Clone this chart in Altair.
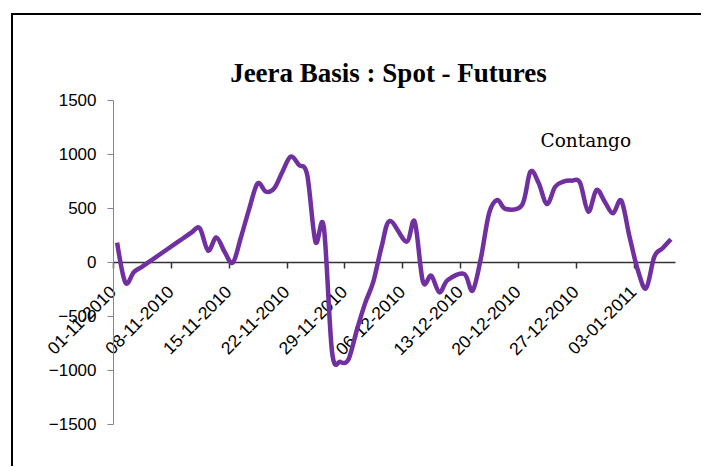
import altair as alt
import pandas as pd

# Jeera basis (Spot - Futures)
dates = [
    "2010-11-01", "2010-11-02", "2010-11-03", "2010-11-04", "2010-11-05",
    "2010-11-08", "2010-11-09", "2010-11-10", "2010-11-11", "2010-11-12",
    "2010-11-13", "2010-11-14", "2010-11-15", "2010-11-16", "2010-11-17",
    "2010-11-18", "2010-11-19", "2010-11-20", "2010-11-21", "2010-11-22",
    "2010-11-23", "2010-11-24", "2010-11-25", "2010-11-26", "2010-11-27",
    "2010-11-28", "2010-11-29", "2010-11-30", "2010-12-01", "2010-12-02",
    "2010-12-03", "2010-12-04", "2010-12-06", "2010-12-07", "2010-12-08",
    "2010-12-09", "2010-12-10", "2010-12-11", "2010-12-13", "2010-12-14",
    "2010-12-15", "2010-12-16", "2010-12-17", "2010-12-18", "2010-12-20",
    "2010-12-21", "2010-12-22", "2010-12-23", "2010-12-24", "2010-12-25",
    "2010-12-26", "2010-12-27", "2010-12-28", "2010-12-29", "2010-12-30",
    "2010-12-31", "2011-01-01", "2011-01-02", "2011-01-03", "2011-01-04",
    "2011-01-05", "2011-01-06", "2011-01-07",
]
basis = [
    180, -191, -95, -45, 8,
    168, 220, 273, 313, 105,
    228, 95, -6, 234, 497,
    728, 651, 682, 836, 975,
    898, 806, 188, 327, -830,
    -925, -900, -630, -383, -182,
    142, 380, 188, 373, -182,
    -127, -281, -167, -111, -265,
    30, 450, 574, 491, 528,
    836, 731, 537, 697, 744,
    753, 735, 466, 667, 558,
    451, 568, 234, -74, -244,
    49, 127, 210,
]

week_ticks = [
    (2010, 11, 1), (2010, 11, 8), (2010, 11, 15), (2010, 11, 22),
    (2010, 11, 29), (2010, 12, 6), (2010, 12, 13), (2010, 12, 20),
    (2010, 12, 27), (2011, 1, 3),
]
y_ticks = [-1500, -1000, -500, 0, 500, 1000, 1500]

title_text = "Jeera Basis : Spot - Futures"
note_text = "Contango"
note_date = "2010-12-28T05:00:00Z"
note_value = 1120

df = pd.DataFrame({
    "date": [d + "T12:00:00Z" for d in dates],
    "basis": basis,
})

x_scale = alt.Scale(
    type="utc",
    domain=[
        alt.DateTime(year=2010, month=11, date=1, utc=True),
        alt.DateTime(year=2011, month=1, date=8, utc=True),
    ],
)
y_scale = alt.Scale(domain=[-1500, 1500], nice=False, zero=False)

x_axis = alt.Axis(
    title=None,
    values=[alt.DateTime(year=a, month=b, date=c, utc=True) for a, b, c in week_ticks],
    labelExpr="utcFormat(datum.value, '%d-%m-%Y')",
    labelAngle=-45,
    labelAlign="right",
    labelBaseline="middle",
    labelPadding=21,
    labelFont="Liberation Sans",
    labelFontSize=17.5,
    labelColor="black",
    tickSize=6,
    tickColor="#333333",
    tickWidth=1.5,
    domainColor="#333333",
    domainWidth=1.5,
    grid=False,
    offset=-162,
    labelOverlap=False,
    labelFlush=False,
)
y_axis = alt.Axis(
    title=None,
    values=y_ticks,
    format="d",
    labelFont="Liberation Sans",
    labelFontSize=17,
    labelColor="black",
    labelPadding=11,
    tickSize=6,
    tickColor="#868686",
    domainColor="#868686",
    grid=False,
)

line = alt.Chart(df).mark_line(
    color="#7030A0", strokeWidth=4.5, interpolate="cardinal", clip=False
).encode(
    x=alt.X("date:T", scale=x_scale, axis=x_axis),
    y=alt.Y("basis:Q", scale=y_scale, axis=y_axis),
)

note = alt.Chart(pd.DataFrame({"date": [note_date], "basis": [note_value], "t": [note_text]})).mark_text(
    font="DejaVu Serif", fontSize=18.5, color="black", align="center", baseline="middle"
).encode(
    x=alt.X("date:T", scale=x_scale),
    y=alt.Y("basis:Q", scale=y_scale),
    text="t:N",
)

title = alt.Chart(pd.DataFrame({"t": [title_text]})).mark_text(
    font="Liberation Serif", fontSize=27, fontWeight="bold", color="black",
    align="center", baseline="alphabetic",
).encode(
    x=alt.value(275.5), y=alt.value(-18), text="t:N"
)

one = pd.DataFrame({"a": [0]})
frame_left = alt.Chart(one).mark_rule(color="black", strokeWidth=2).encode(
    x=alt.value(-101), y=alt.value(-86), y2=alt.value(420)
)
frame_top = alt.Chart(one).mark_rule(color="black", strokeWidth=2).encode(
    x=alt.value(-102), x2=alt.value(588), y=alt.value(-86)
)

chart = alt.layer(line, note, title, frame_left, frame_top).properties(
    width=562,
    height=324,
    autosize=alt.AutoSizeParams(type="none"),
    padding={"left": 105, "top": 92, "right": 30, "bottom": 42},
).configure(background="white").configure_view(stroke=None)

chart.save("out.html", embed_options={"renderer": "svg", "actions": False})
